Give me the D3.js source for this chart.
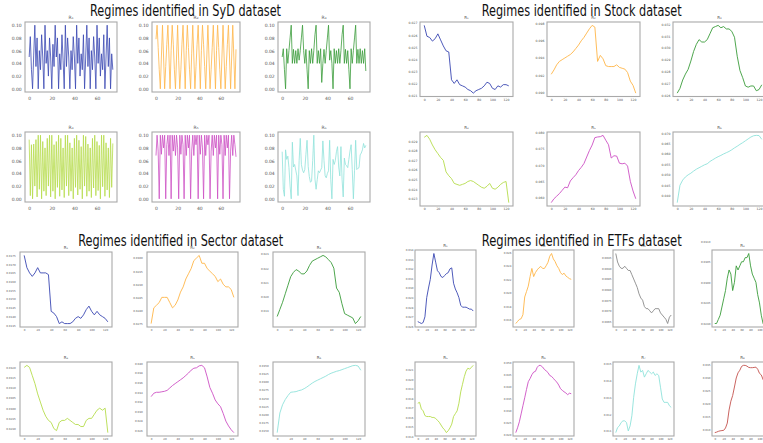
<!DOCTYPE html>
<html><head><meta charset="utf-8">
<script src="https://cdn.jsdelivr.net/npm/d3@7"></script>
<style>body{margin:0;background:#fff}svg{display:block}</style>
</head><body><svg id="c" width="763" height="443"></svg>
<script>
// ---------- DATA ----------
const sydX = d3.range(75); // time index 0..74
const longX = [0,4,8,12,16,20,24,28,32,36,40,44,48,52,56,60,64,68,72,76,80,84,88,92,96,100,104,108,112,116,120,124];

const sydYTicks = [0,0.02,0.04,0.06,0.08,0.10];
const sydXTicks = [0,20,40,60];
const longXTicks = [0,20,40,60,80,100,120];

const sydR1 = [0.050,0.082,0.030,0.000,0.053,0.100,0.035,0.080,0.000,0.060,
 0.030,0.085,0.050,0.000,0.100,0.040,0.060,0.020,0.080,0.050,
 0.000,0.070,0.035,0.100,0.050,0.080,0.000,0.055,0.030,0.085,
 0.045,0.000,0.100,0.035,0.080,0.050,0.000,0.060,0.030,0.082,
 0.050,0.000,0.100,0.040,0.080,0.020,0.055,0.030,0.085,0.000,
 0.050,0.100,0.035,0.080,0.000,0.060,0.030,0.082,0.050,0.000,
 0.100,0.040,0.080,0.020,0.055,0.030,0.085,0.000,0.050,0.100,
 0.035,0.080,0.000,0.055,0.030];
const sydR2 = [0.078,0.100,0.065,0.030,0.000, 0.050,0.100,0.050,0.000,
 0.035,0.070,0.100,0.050,0.000, 0.060,0.100,0.070,0.030,0.000, 0.050,0.100,0.045,0.000,
 0.030,0.070,0.100,0.050,0.000, 0.060,0.100,0.065,0.030,0.000, 0.055,0.100,0.050,0.000,
 0.035,0.070,0.100,0.050,0.000, 0.060,0.100,0.070,0.035,0.000, 0.050,0.100,0.050,0.000,
 0.030,0.065,0.100,0.050,0.000, 0.060,0.100,0.065,0.030,0.000, 0.050,0.100,0.050,0.000,
 0.035,0.070,0.100,0.050,0.000, 0.050,0.100,0.050,0.000,0.062];
const sydR3 = [0.050,0.063,0.030,0.000,0.063,0.040,0.060,0.080,0.100,0.040,0.062,0.040,
 0.060,0.040,0.063,0.045,0.060,0.080,0.100,0.060,0.040,0.062,0.030,0.000,
 0.060,0.040,0.063,0.040,0.060,0.085,0.100,0.040,0.060,0.040,0.063,0.010,
 0.040,0.062,0.040,0.060,0.080,0.100,0.045,0.060,0.040,0.000,0.063,0.040,
 0.060,0.040,0.063,0.040,0.060,0.085,0.100,0.040,0.062,0.040,0.060,0.030,
 0.000,0.063,0.040,0.060,0.080,0.100,0.040,0.062,0.040,0.063,0.040,0.060,
 0.040,0.063,0.028];
const sydR4 = [0.093,0.005,0.085,0.000,0.086,0.020,0.093,0.003,0.100,0.015,
 0.100,0.000,0.090,0.012,0.080,0.005,0.095,0.020,0.100,0.003,
 0.100,0.012,0.085,0.000,0.090,0.018,0.100,0.004,0.095,0.014,
 0.080,0.002,0.100,0.020,0.100,0.005,0.088,0.012,0.080,0.000,
 0.095,0.018,0.100,0.006,0.092,0.015,0.082,0.000,0.100,0.020,
 0.098,0.004,0.086,0.012,0.080,0.002,0.095,0.017,0.100,0.005,
 0.090,0.013,0.084,0.000,0.100,0.019,0.100,0.004,0.088,0.014,
 0.080,0.002,0.095,0.018,0.087];
const sydR5 = [0.068,0.100,0.075,0.000,0.100,0.070,
 0.100,0.080,0.100,0.000,0.085,0.100,
 0.068,0.100,0.000,0.100,0.075,0.100,
 0.068,0.100,0.080,0.000,0.100,0.070,
 0.100,0.085,0.000,0.100,0.068,0.100,
 0.080,0.100,0.000,0.075,0.100,0.068,
 0.100,0.085,0.100,0.000,0.100,0.070,
 0.100,0.080,0.000,0.100,0.068,0.100,
 0.085,0.100,0.000,0.075,0.100,0.068,
 0.100,0.080,0.100,0.000,0.100,0.070,
 0.100,0.085,0.000,0.100,0.068,0.100,
 0.080,0.100,0.000,0.075,0.100,0.068,
 0.100,0.085,0.066];
const sydR6 = [0.074,0.015,0.004,0.077,0.062,0.067,0.049,0.020,0.000,0.089,
 0.050,0.054,0.045,0.036,0.005,0.060,0.095,0.054,0.045,0.041,
 0.046,0.070,0.092,0.051,0.035,0.026,0.028,0.060,0.100,0.031,
 0.015,0.030,0.044,0.041,0.045,0.049,0.091,0.060,0.036,0.033,
 0.040,0.044,0.092,0.030,0.000,0.062,0.054,0.060,0.074,0.082,
 0.050,0.036,0.082,0.030,0.003,0.064,0.054,0.052,0.049,0.062,
 0.075,0.085,0.046,0.000,0.044,0.092,0.046,0.048,0.049,0.069,
 0.072,0.077,0.087,0.080,0.084];

const stockR1 = [0.0268,0.0259,0.0258,0.0255,0.0257,0.0261,0.0256,0.0251,0.0247,0.0246,0.0223,0.0220,0.0223,0.0219,0.0218,0.0217,0.0215,0.0214,0.0212,0.0214,0.0215,0.0216,0.0218,0.0221,0.0220,0.0216,0.0215,0.0218,0.0217,0.0219,0.0219,0.0218];
const stockR2 = [0.0921,0.0926,0.0932,0.0936,0.0938,0.0940,0.0942,0.0944,0.0947,0.0951,0.0955,0.0960,0.0964,0.0969,0.0974,0.0978,0.0976,0.0936,0.0943,0.0939,0.0931,0.0930,0.0930,0.0930,0.0932,0.0929,0.0928,0.0927,0.0923,0.0913,0.0908,0.0899];
const stockR3 = [0.0262,0.0266,0.0273,0.0278,0.0282,0.0289,0.0297,0.0303,0.0307,0.0305,0.0305,0.0307,0.0312,0.0317,0.0318,0.0319,0.0317,0.0318,0.0316,0.0316,0.0314,0.0309,0.0293,0.0281,0.0275,0.0268,0.0267,0.0268,0.0268,0.0264,0.0265,0.0269];
const stockR4 = [0.0294,0.0296,0.0292,0.0286,0.0281,0.0277,0.0273,0.0270,0.0258,0.0254,0.0251,0.0246,0.0245,0.0244,0.0245,0.0246,0.0248,0.0249,0.0248,0.0246,0.0244,0.0242,0.0241,0.0243,0.0246,0.0241,0.0240,0.0242,0.0245,0.0247,0.0248,0.0226];
const stockR5 = [0.0584,0.0596,0.0604,0.0612,0.0622,0.0632,0.0630,0.0651,0.0661,0.0670,0.0683,0.0693,0.0705,0.0725,0.0745,0.0762,0.0785,0.0787,0.0788,0.0792,0.0777,0.0763,0.0722,0.0729,0.0728,0.0706,0.0704,0.0706,0.0697,0.0650,0.0620,0.0596];
const stockR6 = [0.0367,0.0450,0.0475,0.0490,0.0500,0.0508,0.0518,0.0527,0.0534,0.0541,0.0548,0.0553,0.0564,0.0572,0.0580,0.0587,0.0593,0.0600,0.0606,0.0612,0.0620,0.0629,0.0637,0.0646,0.0654,0.0663,0.0672,0.0681,0.0687,0.0689,0.0688,0.0670];
const stockTicks = [
 [0.021,0.022,0.023,0.024,0.025,0.026,0.027],
 [0.090,0.092,0.094,0.096,0.098],
 [0.026,0.027,0.028,0.029,0.030,0.031,0.032],
 [0.023,0.024,0.025,0.026,0.027,0.028,0.029],
 [0.060,0.065,0.070,0.075,0.080],
 [0.040,0.045,0.050,0.055,0.060,0.065,0.070]];

const sectorR1 = [0.0175,0.0168,0.0165,0.0163,0.0165,0.0168,0.0165,0.0165,0.0165,0.0164,0.0143,0.0142,0.0140,0.0136,0.0137,0.0136,0.0136,0.0136,0.0137,0.0139,0.0140,0.0139,0.0141,0.0144,0.0146,0.0143,0.0141,0.0143,0.0141,0.0140,0.0139,0.0137];
const sectorR2 = [0.0275,0.0281,0.0282,0.0283,0.0285,0.0285,0.0285,0.0283,0.0281,0.0282,0.0284,0.0287,0.0289,0.0292,0.0294,0.0296,0.0299,0.0300,0.0301,0.0298,0.0298,0.0296,0.0295,0.0294,0.0293,0.0291,0.0292,0.0290,0.0289,0.0289,0.0288,0.0285];
const sectorR3 = [0.0186,0.0191,0.0196,0.0202,0.0208,0.0214,0.0217,0.0219,0.0218,0.0216,0.0216,0.0218,0.0222,0.0225,0.0226,0.0227,0.0228,0.0229,0.0228,0.0226,0.0224,0.0220,0.0206,0.0203,0.0195,0.0188,0.0187,0.0186,0.0185,0.0181,0.0183,0.0186];
const sectorR4 = [0.0320,0.0321,0.0320,0.0316,0.0312,0.0307,0.0303,0.0299,0.0296,0.0294,0.0293,0.0290,0.0289,0.0293,0.0294,0.0294,0.0295,0.0294,0.0293,0.0292,0.0292,0.0291,0.0291,0.0294,0.0295,0.0295,0.0297,0.0299,0.0300,0.0299,0.0300,0.0288];
const sectorR5 = [0.0331,0.0338,0.0340,0.0340,0.0341,0.0342,0.0344,0.0349,0.0354,0.0358,0.0362,0.0366,0.0370,0.0375,0.0380,0.0386,0.0390,0.0391,0.0395,0.0396,0.0391,0.0372,0.0350,0.0338,0.0324,0.0316,0.0310,0.0296,0.0280,0.0270,0.0262,0.0256];
const sectorR6 = [0.0145,0.0205,0.0230,0.0246,0.0258,0.0268,0.0269,0.0270,0.0273,0.0275,0.0279,0.0284,0.0290,0.0296,0.0301,0.0305,0.0309,0.0313,0.0317,0.0322,0.0326,0.0329,0.0332,0.0334,0.0337,0.0340,0.0343,0.0346,0.0349,0.0350,0.0348,0.0335];
const sectorTicks = [
 [0.0135,0.0140,0.0145,0.0150,0.0155,0.0160,0.0165,0.0170,0.0175],
 [0.0275,0.0280,0.0285,0.0290,0.0295,0.0300],
 [0.019,0.020,0.021,0.022,0.023],
 [0.0290,0.0295,0.0300,0.0305,0.0310,0.0315,0.0320],
 [0.026,0.028,0.030,0.032,0.034,0.036,0.038,0.040],
 [0.0150,0.0175,0.0200,0.0225,0.0250,0.0275,0.0300,0.0325,0.0350]];

const etfR1 = [0.0265,0.0264,0.0263,0.0264,0.0270,0.0290,0.0300,0.0309,0.0324,0.0336,0.0327,0.0318,0.0316,0.0312,0.0311,0.0313,0.0315,0.0316,0.0320,0.0321,0.0305,0.0299,0.0295,0.0290,0.0282,0.0280,0.0280,0.0280,0.0279,0.0278,0.0278,0.0276];
const etfR2 = [0.0155,0.0158,0.0161,0.0162,0.0168,0.0194,0.0202,0.0210,0.0224,0.0236,0.0224,0.0230,0.0234,0.0237,0.0239,0.0236,0.0236,0.0240,0.0245,0.0254,0.0258,0.0250,0.0246,0.0240,0.0236,0.0230,0.0227,0.0229,0.0225,0.0223,0.0221,0.0220];
const etfR3 = [0.0097,0.0093,0.0091,0.0090,0.0090,0.0091,0.0090,0.0089,0.0089,0.0087,0.0085,0.0083,0.0081,0.0078,0.0076,0.0075,0.0072,0.0071,0.0071,0.0070,0.0069,0.0070,0.0071,0.0071,0.0071,0.0069,0.0068,0.0067,0.0066,0.0064,0.0067,0.0068];
const etfR4 = [0.0290,0.0290,0.0291,0.0292,0.0294,0.0296,0.0298,0.0301,0.0303,0.0302,0.0298,0.0300,0.0304,0.0303,0.0304,0.0305,0.0305,0.0306,0.0306,0.0307,0.0304,0.0302,0.0301,0.0300,0.0297,0.0295,0.0292,0.0290,0.0291,0.0293,0.0294,0.0293];
const etfR5 = [0.0175,0.0176,0.0169,0.0167,0.0162,0.0161,0.0161,0.0161,0.0160,0.0160,0.0159,0.0157,0.0155,0.0152,0.0149,0.0147,0.0144,0.0146,0.0149,0.0153,0.0161,0.0164,0.0167,0.0175,0.0187,0.0195,0.0203,0.0209,0.0212,0.0211,0.0213,0.0215];
const etfR6 = [0.0210,0.0230,0.0255,0.0288,0.0322,0.0355,0.0390,0.0422,0.0435,0.0451,0.0462,0.0465,0.0482,0.0490,0.0489,0.0483,0.0473,0.0467,0.0460,0.0448,0.0444,0.0436,0.0427,0.0420,0.0408,0.0393,0.0386,0.0380,0.0375,0.0368,0.0374,0.0372];
const etfR7 = [0.0109,0.0112,0.0113,0.0115,0.0116,0.0116,0.0115,0.0110,0.0113,0.0119,0.0130,0.0138,0.0144,0.0149,0.0145,0.0146,0.0142,0.0144,0.0146,0.0145,0.0144,0.0145,0.0143,0.0144,0.0143,0.0136,0.0129,0.0127,0.0127,0.0127,0.0125,0.0124];
const etfR8 = [0.0088,0.0090,0.0093,0.0095,0.0096,0.0097,0.0106,0.0125,0.0176,0.0210,0.0232,0.0265,0.0300,0.0320,0.0330,0.0345,0.0349,0.0349,0.0346,0.0341,0.0340,0.0340,0.0341,0.0342,0.0334,0.0318,0.0312,0.0294,0.0280,0.0270,0.0262,0.0255];
const etfTicks = [
 [0.026,0.027,0.028,0.029,0.030,0.031,0.032,0.033,0.034],
 [0.016,0.018,0.020,0.022,0.024,0.026],
 [0.0065,0.0070,0.0075,0.0080,0.0085,0.0090,0.0095],
 [0.0290,0.0295,0.0300,0.0305,0.0310],
 [0.014,0.015,0.016,0.017,0.018,0.019,0.020,0.021],
 [0.020,0.025,0.030,0.035,0.040,0.045,0.050],
 [0.011,0.012,0.013,0.014,0.015],
 [0.010,0.015,0.020,0.025,0.030,0.035]];

const regimeNames = ["R\u2081","R\u2082","R\u2083","R\u2084","R\u2085","R\u2086","R\u2087","R\u2088"];

// ---------- STYLE / LAYOUT ----------
const C = {blue:"#3a47b2", orange:"#ffb547", green:"#3a9c3a", gray:"#8a8a8a",
  yg:"#b6dc4c", mag:"#cd50c4", cyan:"#8fe2da", red:"#c4524e"};

const groups = [
 {title:"Regimes identified in SyD dataset", tx:185.5, ty:15.5, tl:191,
  lefts:[25,152,278], widths:[92,88,92], tops:[22,132], heights:[70,70],
  fs:4.5, tfs:4.5, ypad:3.3, xpad:4.6, lw:0.8, xticks:sydXTicks, x:sydX, fmt:".2f",
  series:[sydR1,sydR2,sydR3,sydR4,sydR5,sydR6],
  ticks:[sydYTicks,sydYTicks,sydYTicks,sydYTicks,sydYTicks,sydYTicks],
  colors:[C.blue,C.orange,C.green,C.yg,C.mag,C.cyan], cols:3},
 {title:"Regimes identified in Stock dataset", tx:581.7, ty:15.7, tl:200,
  lefts:[420,547,673], widths:[93,93,93], tops:[22,132], heights:[74.5,74],
  fs:3.1, tfs:4, ypad:2.6, xpad:1.8, lw:0.9, xticks:longXTicks, x:longX, fmt:".3f",
  series:[stockR1,stockR2,stockR3,stockR4,stockR5,stockR6], ticks:stockTicks,
  colors:[C.blue,C.orange,C.green,C.yg,C.mag,C.cyan], cols:3},
 {title:"Regimes identified in Sector dataset", tx:180.7, ty:245.7, tl:205,
  lefts:[20,147,273], widths:[92,91,92], tops:[252,362], heights:[75,74],
  fs:2.7, tfs:4, ypad:4.3, xpad:2.4, lw:0.9, xticks:longXTicks, x:longX, fmt:null,
  series:[sectorR1,sectorR2,sectorR3,sectorR4,sectorR5,sectorR6], ticks:sectorTicks,
  fmts:[".4f",".4f",".3f",".4f",".3f",".4f"],
  colors:[C.blue,C.orange,C.green,C.yg,C.mag,C.cyan], cols:3},
 {title:"Regimes identified in ETFs dataset", tx:581.7, ty:245.7, tl:200,
  lefts:[415,513,613,712], widths:[61,61,61,61], tops:[250,362], heights:[77,74],
  fs:2.7, tfs:4, ypad:1.6, xpad:2.4, lw:0.9, xticks:longXTicks, x:longX, fmt:null,
  series:[etfR1,etfR2,etfR3,etfR4,etfR5,etfR6,etfR7,etfR8], ticks:etfTicks,
  fmts:[".3f",".3f",".4f",".4f",".3f",".3f",".3f",".3f"],
  colors:[C.blue,C.orange,C.gray,C.green,C.yg,C.mag,C.cyan,C.red], cols:4}
];

// ---------- DRAW ----------
const svg = d3.select("#c");
svg.append("rect").attr("width",763).attr("height",443).attr("fill","#fff");

groups.forEach(G => {
  G.series.forEach((ys, k) => {
    const col = k % G.cols, row = Math.floor(k / G.cols);
    const L = G.lefts[col], T = G.tops[row], W = G.widths[col], H = G.heights[row];
    const xs = G.x;
    const [xa, xb] = d3.extent(xs), mx = (xb - xa) * 0.05;
    const [ya, yb] = d3.extent(ys), my = (yb - ya) * 0.05;
    const xS = d3.scaleLinear().domain([xa - mx, xb + mx]).range([L, L + W]);
    const yS = d3.scaleLinear().domain([ya - my, yb + my]).range([T + H, T]);
    const g = svg.append("g");
    const fmt = d3.format(G.fmt || G.fmts[k]);

    const ay = g.append("g").attr("transform", `translate(${L},0)`)
      .call(d3.axisLeft(yS).tickValues(G.ticks[k]).tickFormat(fmt).tickSize(0).tickPadding(G.ypad));
    ay.select(".domain").remove();
    ay.selectAll("text").attr("font-size", G.fs).attr("font-family","DejaVu Sans").attr("fill","#555");

    const ax = g.append("g").attr("transform", `translate(0,${T + H})`)
      .call(d3.axisBottom(xS).tickValues(G.xticks).tickFormat(d3.format("d")).tickSize(0).tickPadding(G.xpad));
    ax.select(".domain").remove();
    ax.selectAll("text").attr("font-size", G.fs).attr("font-family","DejaVu Sans").attr("fill","#555");

    g.append("path").datum(ys)
      .attr("fill","none").attr("stroke", G.colors[k]).attr("stroke-width", G.lw)
      .attr("stroke-linejoin","round")
      .attr("d", d3.line().x((d,i) => xS(xs[i])).y(d => yS(d)));

    g.append("rect").attr("x", L).attr("y", T).attr("width", W).attr("height", H)
      .attr("fill","none").attr("stroke","#a9a9a9").attr("stroke-width",1.1);

    g.append("text").attr("x", L + W/2).attr("y", T - 2.6).attr("text-anchor","middle")
      .attr("font-family","DejaVu Sans").attr("font-size", G.tfs).attr("fill","#555")
      .text(regimeNames[k]);
  });

  svg.append("text").attr("x", G.tx).attr("y", G.ty).attr("text-anchor","middle")
    .attr("font-family","DejaVu Sans").attr("font-size",15).attr("fill","#111")
    .attr("textLength", G.tl).attr("lengthAdjust","spacingAndGlyphs")
    .text(G.title);
});
</script></body></html>
